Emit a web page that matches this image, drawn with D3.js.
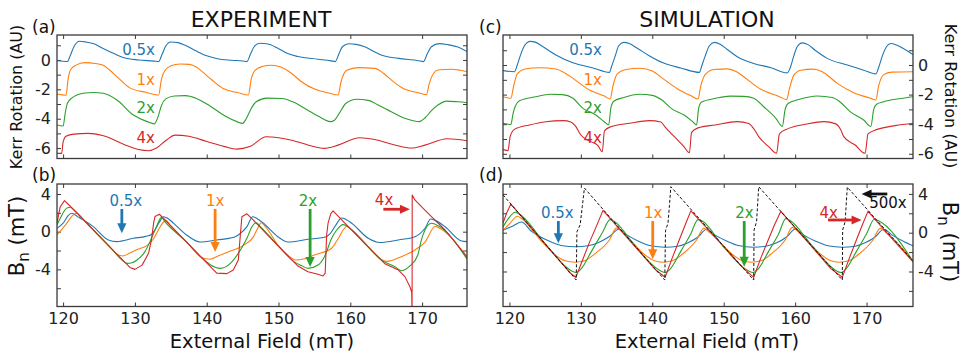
<!DOCTYPE html>
<html>
<head>
<meta charset="utf-8">
<script src="https://cdn.jsdelivr.net/npm/d3@7"></script>
<style>
body { margin: 0; background: #fff; }
svg { display: block; font-family: "DejaVu Sans", Verdana, sans-serif; }
</style>
</head>
<body>
<svg id="chart" width="970" height="362"></svg>
<script>
// ---- data ----
var fieldTicks = [120, 130, 140, 150, 160, 170];
var kerrTicks = [-6, -5, -4, -3, -2, -1, 0, 1];
var kerrLabels = [-6, -4, -2, 0];
var bnTicks = [-6, -4, -2, 0, 2, 4];
var bnLabels = [-4, 0, 4];
var ratioNames = ["0.5x", "1x", "2x", "4x"];
var ratioColors = ["#1f77b4", "#ff7f0e", "#2ca02c", "#d62728"];

// (a) experiment, Kerr rotation
var expKerr05 = [[119.15,-0.05],[120.6,-0.1],[121.0,0.3],[121.5,0.9],[122.3,1.27],[123.2,1.22],[124.2,1.12],[125.5,0.8],[127.0,0.45],[128.5,0.15],[130.5,0.0],[132.7,-0.08],[133.3,-0.11],[133.8,0.4],[134.3,0.95],[135.0,1.22],[136.0,1.18],[137.0,1.0],[138.5,0.62],[140.0,0.28],[141.5,0.08],[143.5,-0.02],[145.0,-0.07],[145.6,-0.11],[146.1,0.4],[146.6,0.9],[147.4,1.14],[148.4,1.1],[149.9,0.8],[151.2,0.45],[152.7,0.23],[155.5,0.05],[157.3,-0.06],[157.9,-0.11],[158.4,0.4],[158.9,0.9],[159.8,1.1],[160.8,1.06],[162.0,0.9],[163.2,0.6],[164.3,0.34],[166.7,0.11],[169.5,-0.05],[170.2,-0.11],[170.7,0.4],[171.3,0.9],[172.4,1.11],[173.5,1.05],[175.0,0.88],[176.25,0.57]];
var expKerr1 = [[119.15,-2.32],[120.4,-2.4],[120.7,-1.3],[121.0,-0.7],[121.8,-0.35],[123.0,-0.18],[124.5,-0.24],[125.6,-0.36],[126.5,-0.7],[127.5,-1.14],[129.3,-1.9],[131.5,-2.2],[133.3,-2.39],[133.7,-1.3],[134.2,-0.7],[135.0,-0.4],[136.3,-0.27],[137.6,-0.3],[138.6,-0.5],[139.5,-0.85],[140.7,-1.35],[142.3,-1.95],[144.3,-2.22],[145.8,-2.39],[146.2,-1.3],[146.7,-0.72],[147.7,-0.45],[149.0,-0.36],[150.4,-0.5],[151.8,-0.9],[153.2,-1.48],[155.1,-2.0],[157.0,-2.25],[158.3,-2.39],[158.7,-1.5],[159.5,-0.7],[161.1,-0.52],[163.4,-0.57],[164.6,-0.9],[165.7,-1.36],[167.6,-2.0],[169.3,-2.22],[170.6,-2.36],[171.0,-1.6],[171.6,-0.9],[172.2,-0.68],[174.1,-0.63],[175.3,-0.7],[176.25,-0.8]];
var expKerr2 = [[119.15,-4.43],[120.0,-4.5],[120.3,-3.6],[120.6,-2.95],[121.2,-2.6],[122.8,-2.27],[124.2,-2.22],[125.6,-2.27],[127.5,-2.73],[129.8,-3.75],[131.7,-4.2],[132.7,-4.35],[133.2,-3.9],[133.7,-3.1],[134.3,-2.65],[135.5,-2.45],[137.0,-2.43],[138.5,-2.6],[140.5,-3.15],[142.5,-3.8],[144.2,-4.2],[145.0,-4.32],[145.5,-4.0],[146.2,-3.3],[146.9,-2.85],[148.4,-2.6],[150.5,-2.62],[152.0,-2.85],[153.5,-3.25],[155.5,-3.82],[157.2,-4.2],[157.8,-4.1],[158.5,-3.6],[159.4,-2.95],[160.9,-2.68],[162.5,-2.75],[164.0,-3.1],[165.7,-3.52],[168.0,-4.04],[169.6,-4.2],[170.4,-3.95],[171.3,-3.45],[172.2,-3.07],[173.4,-2.8],[175.0,-2.85],[176.25,-2.91]];
var expKerr4 = [[119.15,-6.36],[119.8,-6.36],[120.0,-5.6],[120.4,-5.2],[121.5,-5.05],[123.5,-5.0],[125.5,-5.15],[128.5,-5.75],[130.5,-6.1],[131.9,-6.18],[133.0,-6.0],[134.4,-5.45],[135.6,-5.12],[137.5,-5.2],[140.0,-5.55],[142.5,-5.9],[144.2,-6.07],[146.0,-5.9],[148.3,-5.23],[150.0,-5.3],[152.0,-5.48],[154.1,-5.79],[156.4,-6.02],[158.3,-5.8],[161.3,-5.3],[163.4,-5.42],[166.2,-5.79],[168.5,-6.0],[170.4,-5.8],[173.5,-5.37],[176.25,-5.5]];

// (c) simulation, Kerr rotation
var simKerr05 = [[119.1,-0.38],[120.7,-0.45],[121.1,0.0],[121.5,0.6],[122.1,1.3],[122.9,1.6],[123.6,1.55],[124.5,1.3],[126.5,0.68],[128.9,0.15],[131.7,-0.2],[134.0,-0.5],[134.3,-0.1],[134.8,0.6],[135.3,1.3],[136.0,1.53],[136.8,1.45],[138.0,1.1],[139.5,0.65],[141.5,0.15],[144.0,-0.2],[146.6,-0.5],[146.9,-0.1],[147.4,0.6],[148.0,1.3],[148.7,1.53],[149.5,1.4],[150.5,1.05],[151.9,0.56],[154.2,0.11],[156.6,-0.18],[158.9,-0.53],[159.3,-0.2],[159.8,0.6],[160.3,1.25],[161.0,1.5],[161.8,1.38],[162.8,1.0],[164.5,0.45],[167.3,0.0],[169.5,-0.33],[171.3,-0.6],[171.7,-0.15],[172.2,0.6],[172.8,1.25],[173.4,1.46],[174.2,1.35],[175.2,1.1],[176.5,0.7]];
var simKerr1 = [[119.1,-2.14],[120.2,-2.25],[120.6,-1.4],[121.1,-0.6],[122.2,-0.27],[124.2,-0.18],[126.5,-0.27],[127.8,-0.55],[128.9,-0.9],[131.2,-1.69],[133.3,-2.1],[134.1,-2.3],[134.5,-1.4],[135.1,-0.6],[136.3,-0.3],[138.3,-0.22],[140.0,-0.4],[141.3,-0.85],[143.5,-1.6],[145.5,-2.1],[146.4,-2.3],[146.8,-1.4],[147.4,-0.65],[148.6,-0.3],[150.5,-0.26],[151.8,-0.45],[152.8,-0.79],[155.2,-1.64],[157.8,-2.14],[158.8,-2.34],[159.2,-1.6],[159.8,-0.7],[160.8,-0.35],[162.5,-0.28],[163.8,-0.45],[165.9,-1.24],[168.2,-1.87],[170.6,-2.25],[171.3,-2.36],[171.7,-1.4],[172.4,-0.65],[173.5,-0.48],[176.5,-0.45]];
var simKerr2 = [[119.1,-3.94],[120.2,-4.02],[120.5,-3.3],[120.8,-2.8],[121.4,-2.42],[123.7,-2.14],[125.7,-1.98],[127.4,-2.0],[128.9,-2.25],[130.3,-2.93],[132.1,-3.38],[133.3,-3.85],[133.9,-4.05],[134.2,-2.9],[134.6,-2.45],[135.9,-2.21],[138.3,-1.98],[140.0,-2.05],[141.3,-2.35],[142.7,-2.95],[144.5,-3.4],[145.7,-3.85],[146.2,-4.05],[146.5,-2.9],[146.9,-2.5],[148.9,-2.25],[150.9,-2.1],[152.8,-2.12],[154.2,-2.25],[155.6,-2.82],[157.3,-3.6],[158.2,-4.15],[158.6,-3.0],[159.0,-2.6],[160.5,-2.33],[163.1,-2.09],[165.2,-2.2],[166.3,-2.5],[167.7,-3.15],[169.6,-3.72],[170.6,-4.15],[171.0,-3.0],[171.4,-2.65],[172.4,-2.48],[174.5,-2.28],[176.5,-2.14]];
var simKerr4 = [[119.1,-5.7],[119.8,-5.79],[120.1,-4.84],[120.7,-4.35],[122.8,-4.05],[125.1,-3.83],[127.5,-3.76],[128.6,-3.85],[129.2,-4.1],[130.0,-4.73],[131.4,-5.18],[132.4,-5.45],[133.0,-5.86],[133.3,-4.45],[134.2,-4.17],[136.8,-3.94],[139.6,-3.76],[141.2,-3.85],[141.8,-4.2],[143.3,-4.95],[144.4,-5.5],[145.2,-5.93],[145.5,-4.55],[146.4,-4.25],[148.8,-4.05],[151.9,-3.83],[153.5,-3.95],[154.2,-4.3],[154.9,-4.84],[156.3,-5.52],[157.4,-5.97],[157.8,-4.65],[159.0,-4.3],[161.5,-4.0],[164.0,-3.83],[165.7,-3.98],[166.4,-4.4],[166.8,-4.84],[168.4,-5.41],[169.8,-5.97],[170.2,-4.65],[171.5,-4.35],[174.0,-4.1],[176.5,-3.94]];

// (b) experiment, Bn
var expBn05 = [[119.15,0.36],[120.0,0.9],[120.7,1.7],[121.2,1.95],[122.0,1.6],[124.2,0.53],[126.3,-0.88],[127.5,-1.05],[129.8,-0.7],[131.5,-0.5],[132.3,-0.3],[132.8,0.2],[133.4,1.0],[134.0,1.59],[134.6,1.4],[135.4,0.89],[137.2,-0.35],[139.1,-1.1],[141.4,-0.88],[143.8,-0.6],[144.5,-0.3],[145.6,0.53],[146.4,1.59],[147.0,1.4],[147.9,0.89],[149.9,-0.53],[151.3,-1.1],[154.1,-0.81],[156.4,-0.6],[157.2,-0.2],[157.9,0.6],[158.8,1.45],[159.4,1.3],[160.2,0.89],[162.5,-0.7],[164.1,-1.15],[166.7,-0.88],[169.0,-0.53],[170.4,0.36],[171.2,1.35],[171.8,1.2],[173.2,0.53],[175.5,-0.99],[176.25,-1.06]];
var expBn1 = [[119.15,-0.35],[120.5,0.89],[121.3,1.7],[121.9,1.95],[122.5,1.5],[123.5,0.73],[125.0,-0.44],[126.5,-1.6],[127.5,-2.4],[128.3,-2.58],[129.2,-2.3],[130.3,-1.9],[131.7,-1.45],[132.6,-0.75],[133.5,0.5],[134.3,1.2],[135.0,0.6],[137.5,-1.35],[139.3,-2.75],[140.4,-2.93],[141.5,-2.6],[142.8,-2.2],[145.1,-1.45],[146.5,-0.55],[147.0,0.2],[147.6,0.95],[148.2,0.5],[150.0,-1.5],[151.3,-2.5],[152.4,-3.0],[153.5,-2.9],[155.0,-2.47],[157.4,-1.76],[158.3,-0.75],[159.5,0.55],[160.2,0.2],[163.4,-2.32],[164.3,-2.95],[165.1,-3.15],[167.1,-2.65],[169.0,-1.95],[170.4,-1.1],[171.8,0.55],[172.5,0.35],[176.25,-2.83]];
var expBn2 = [[119.15,0.7],[119.6,1.42],[120.5,2.5],[121.0,2.6],[121.5,2.3],[124.0,0.34],[126.5,-1.6],[128.2,-3.0],[128.9,-3.36],[129.6,-3.3],[130.3,-3.0],[131.4,-2.12],[132.1,-1.06],[133.0,0.53],[133.7,1.52],[134.2,1.05],[137.0,-0.95],[139.5,-2.9],[140.5,-3.5],[141.9,-3.89],[143.3,-3.36],[144.4,-2.3],[145.6,-0.7],[146.3,0.53],[146.9,0.95],[147.4,0.6],[150.0,-1.53],[152.2,-3.2],[153.2,-3.6],[154.1,-3.89],[155.5,-3.54],[156.4,-2.65],[157.4,-0.7],[158.1,0.18],[159.0,0.75],[159.5,0.6],[162.0,-1.25],[164.5,-3.1],[166.2,-3.72],[167.1,-4.14],[168.3,-3.64],[169.4,-2.47],[169.9,-0.88],[170.4,0.18],[171.3,0.89],[172.3,0.6],[176.25,-2.9]];
var expBn4 = [[119.15,0.9],[119.6,2.65],[120.2,3.3],[121.0,2.7],[124.0,0.34],[127.0,-2.0],[129.3,-3.8],[130.0,-4.0],[131.0,-3.55],[131.9,-2.3],[132.3,-0.9],[132.6,0.9],[132.8,1.6],[133.4,1.85],[134.0,1.4],[137.0,-0.95],[140.0,-3.3],[141.4,-4.4],[142.8,-4.45],[143.7,-4.07],[144.4,-3.0],[144.7,-0.2],[144.9,1.59],[145.6,1.9],[146.4,1.3],[149.5,-1.15],[152.7,-3.65],[154.1,-4.25],[155.5,-4.52],[156.2,-4.7],[156.5,-4.4],[156.7,-0.35],[156.9,0.9],[157.3,1.95],[157.6,2.2],[158.3,1.65],[159.0,1.1],[162.0,-1.23],[164.8,-3.4],[166.7,-4.07],[167.6,-4.77],[168.3,-5.84],[168.55,-6.4],[168.6,-9.0],[168.62,3.9],[169.0,3.37],[169.9,2.65],[171.3,1.59],[173.2,0.18],[176.25,-2.65]];

// (d) simulation, Bn
var simBn05 = [[119.1,0.25],[120.5,0.7],[121.7,1.1],[123.0,0.2],[124.5,-0.5],[126.0,-1.0],[127.5,-1.35],[129.2,-1.45],[131.0,-1.35],[132.5,-1.0],[134.0,-0.4],[135.3,0.35],[136.5,-0.25],[138.0,-0.85],[139.8,-1.35],[141.8,-1.5],[143.6,-1.4],[145.0,-1.05],[146.4,-0.45],[147.6,0.35],[148.8,-0.25],[150.4,-0.85],[152.2,-1.35],[154.1,-1.5],[155.9,-1.4],[157.4,-1.05],[158.8,-0.45],[160.0,0.35],[161.2,-0.25],[162.8,-0.85],[164.6,-1.35],[166.6,-1.5],[168.4,-1.4],[169.8,-1.05],[171.2,-0.45],[172.4,0.35],[173.6,-0.25],[175.2,-0.9],[176.5,-1.35]];
var simBn1 = [[119.1,0.25],[120.0,0.9],[121.1,1.7],[121.7,1.45],[124.5,-0.9],[126.5,-2.35],[127.8,-2.9],[129.2,-3.05],[130.5,-2.9],[132.1,-2.1],[134.0,-0.75],[135.0,0.5],[135.7,0.15],[139.0,-2.3],[140.3,-2.9],[141.4,-3.05],[142.8,-2.9],[144.4,-2.1],[146.2,-0.75],[147.2,0.45],[147.9,0.1],[151.4,-2.35],[152.6,-2.9],[153.8,-3.05],[155.2,-2.9],[156.8,-2.1],[158.6,-0.75],[159.6,0.55],[160.3,0.2],[163.8,-2.35],[165.0,-2.9],[166.1,-3.05],[167.5,-2.9],[169.1,-2.1],[170.9,-0.75],[171.9,0.45],[172.6,0.1],[176.5,-2.9]];
var simBn2 = [[119.1,0.6],[119.8,1.4],[120.8,2.1],[121.3,1.95],[125.0,-1.15],[127.8,-3.45],[128.7,-3.95],[129.3,-4.1],[130.0,-3.75],[131.5,-1.9],[133.0,0.0],[134.1,1.35],[134.6,1.2],[137.5,-1.3],[140.3,-3.5],[141.2,-3.95],[141.8,-4.1],[142.5,-3.75],[144.0,-1.9],[145.4,-0.1],[146.4,1.35],[147.0,1.2],[149.8,-1.3],[152.6,-3.5],[153.5,-3.95],[154.1,-4.1],[154.8,-3.75],[156.3,-1.9],[157.7,-0.1],[158.7,1.45],[159.2,1.3],[162.2,-1.2],[165.0,-3.5],[165.8,-3.95],[166.4,-4.1],[167.1,-3.75],[168.6,-1.9],[170.0,-0.1],[171.1,1.38],[171.6,1.25],[176.5,-2.95]];
var simBn4 = [[119.1,1.0],[119.6,2.0],[120.2,2.95],[125.0,-1.15],[128.5,-4.15],[129.3,-4.6],[130.2,-2.9],[131.2,-1.0],[132.2,0.7],[133.1,2.3],[137.0,-0.95],[140.5,-3.85],[141.8,-4.6],[142.8,-2.6],[143.8,-0.7],[144.6,0.8],[145.4,2.25],[149.0,-0.6],[152.6,-3.55],[154.2,-4.6],[155.2,-2.6],[156.2,-0.8],[157.1,0.8],[158.0,2.2],[161.5,-0.75],[165.0,-3.7],[166.6,-4.6],[167.6,-2.6],[168.6,-0.7],[169.4,0.8],[170.2,2.2],[173.0,-0.15],[176.5,-3.0]];
var simBn500 = [[119.1,3.9],[129.35,-4.88],[129.45,0.1],[129.9,0.8],[130.2,2.7],[130.5,4.6],[141.75,-4.88],[141.85,0.2],[142.2,1.0],[142.4,2.8],[142.6,4.74],[154.2,-4.88],[154.25,0.28],[154.6,1.13],[154.9,4.74],[166.6,-4.88],[166.65,0.28],[167.0,1.13],[167.3,4.7],[176.5,-2.9]];

// ---- layout ----
var svg = d3.select("#chart");
var FRAME = "#3a3a3a";

var panels = [
    {id: "a", left: 57, right: 467, top: 35, bottom: 158.5, xDomain: [119.15, 176.25], yDomain: [-6.71, 1.70],
     yTicks: kerrTicks, yLabels: kerrLabels, side: "left", xLabels: false,
     data: [expKerr05, expKerr1, expKerr2, expKerr4], linear: [false, false, false, false],
     notes: [{t: 0, x: 132.8, y: 0.34}, {t: 1, x: 132.8, y: -1.7}, {t: 2, x: 132.8, y: -3.63}, {t: 3, x: 132.8, y: -5.64}]},
    {id: "c", left: 503, right: 913, top: 35, bottom: 158.5, xDomain: [119.1, 176.5], yDomain: [-6.32, 2.03],
     yTicks: kerrTicks, yLabels: kerrLabels, side: "right", xLabels: false,
     data: [simKerr05, simKerr1, simKerr2, simKerr4], linear: [false, false, false, false],
     notes: [{t: 0, x: 132.96, y: 0.68}, {t: 1, x: 132.96, y: -1.35}, {t: 2, x: 132.96, y: -3.26}, {t: 3, x: 132.96, y: -5.25}]},
    {id: "b", left: 57, right: 467, top: 184, bottom: 306.5, xDomain: [119.15, 176.25], yDomain: [-7.94, 5.06],
     yTicks: bnTicks, yLabels: bnLabels, side: "left", xLabels: true,
     data: [expBn05, expBn1, expBn2, expBn4], linear: [false, false, false, true],
     arrows: [{c: 0, tx: 128.73, ty: 2.73, a: [128.18, 2.41, 128.18, -0.17]},
              {c: 1, tx: 141.17, ty: 2.73, a: [141.17, 2.41, 141.17, -2.15]},
              {c: 2, tx: 154.1, ty: 2.73, a: [154.4, 2.41, 154.4, -3.75]},
              {c: 3, tx: 164.7, ty: 2.83, a: [164.6, 2.38, 168.3, 2.38]}]},
    {id: "d", left: 503, right: 913, top: 184, bottom: 306.5, xDomain: [119.1, 176.5], yDomain: [-7.61, 5.02],
     yTicks: bnTicks, yLabels: bnLabels, side: "right", xLabels: true,
     data: [simBn05, simBn1, simBn2, simBn4], linear: [false, false, false, true], black: simBn500,
     arrows: [{c: 0, tx: 126.7, ty: 1.52, a: [126.85, 1.2, 126.85, -1.09]},
              {c: 1, tx: 140.14, ty: 1.52, a: [140.06, 1.2, 140.06, -2.74]},
              {c: 2, tx: 152.9, ty: 1.52, a: [152.87, 1.2, 152.87, -3.5]},
              {c: 3, tx: 164.7, ty: 1.52, a: [164.6, 1.31, 169.3, 1.31]},
              {c: -1, tx: 173.0, ty: 2.5, a: [172.9, 3.99, 169.3, 3.99], text: "500x"}]}
];

function styleAxis(sel) {
    sel.select(".domain").remove();
    sel.selectAll(".tick line").attr("stroke", FRAME).attr("stroke-width", 1);
    sel.selectAll(".tick text").attr("font-family", "DejaVu Sans").attr("font-size", 16).attr("fill", "#222");
    sel.attr("font-family", null).attr("font-size", null);
    return sel;
}

var arrow = function(g, x1, y1, x2, y2, color) {
    var dx = x2 - x1, dy = y2 - y1, len = Math.sqrt(dx * dx + dy * dy);
    var ux = dx / len, uy = dy / len, head = 10, half = 4.6;
    var bx = x2 - ux * head, by = y2 - uy * head;
    g.append("line")
        .attr("x1", x1).attr("y1", y1).attr("x2", bx + ux).attr("y2", by + uy)
        .attr("stroke", color).attr("stroke-width", 2.8);
    g.append("path")
        .attr("d", "M" + x2 + "," + y2 + "L" + (bx - uy * half) + "," + (by + ux * half) +
                   "L" + (bx + uy * half) + "," + (by - ux * half) + "Z")
        .attr("fill", color);
}

var drawPanel = function(p) {
    var x = d3.scaleLinear().domain(p.xDomain).range([p.left, p.right]);
    var y = d3.scaleLinear().domain(p.yDomain).range([p.bottom, p.top]);
    var g = svg.append("g");
    var none = function() { return ""; };
    var yFmt = function(d) { return p.yLabels.indexOf(d) >= 0 ? (d < 0 ? "-" + (-d) : String(d)) : ""; };

    svg.append("clipPath").attr("id", "clip" + p.id).append("rect")
        .attr("x", p.left).attr("y", p.top)
        .attr("width", p.right - p.left).attr("height", p.bottom - p.top);

    styleAxis(g.append("g").attr("transform", "translate(0," + p.bottom + ")")
        .call(d3.axisBottom(x).tickValues(fieldTicks).tickSizeInner(-4).tickSizeOuter(0)
            .tickPadding(6).tickFormat(p.xLabels ? d3.format("d") : none)));
    styleAxis(g.append("g").attr("transform", "translate(0," + p.top + ")")
        .call(d3.axisTop(x).tickValues(fieldTicks).tickSizeInner(-4).tickSizeOuter(0).tickFormat(none)));
    styleAxis(g.append("g").attr("transform", "translate(" + p.left + ",0)")
        .call(d3.axisLeft(y).tickValues(p.yTicks).tickSizeInner(-4).tickSizeOuter(0)
            .tickPadding(6).tickFormat(p.side === "left" ? yFmt : none)));
    styleAxis(g.append("g").attr("transform", "translate(" + p.right + ",0)")
        .call(d3.axisRight(y).tickValues(p.yTicks).tickSizeInner(-4).tickSizeOuter(0)
            .tickPadding(5).tickFormat(p.side === "right" ? yFmt : none)));

    var lines = g.append("g").attr("clip-path", "url(#clip" + p.id + ")");
    p.data.forEach(function(s, i) {
        var line = d3.line()
            .x(function(d) { return x(d[0]); })
            .y(function(d) { return y(d[1]); })
            .curve(p.linear[i] ? d3.curveLinear : d3.curveMonotoneX);
        lines.append("path").datum(s)
            .attr("d", line)
            .attr("fill", "none")
            .attr("stroke", ratioColors[i])
            .attr("stroke-width", 1.1)
            .attr("stroke-linejoin", "round");
    });
    if (p.black) {
        lines.append("path").datum(p.black)
            .attr("d", d3.line().x(function(d) { return x(d[0]); }).y(function(d) { return y(d[1]); }))
            .attr("fill", "none")
            .attr("stroke", "#111")
            .attr("stroke-width", 1)
            .attr("stroke-dasharray", "3,2");
    }

    g.append("rect")
        .attr("x", p.left).attr("y", p.top)
        .attr("width", p.right - p.left).attr("height", p.bottom - p.top)
        .attr("fill", "none").attr("stroke", FRAME).attr("stroke-width", 1.3);

    (p.notes || []).forEach(function(n) {
        g.append("text")
            .attr("x", x(n.x)).attr("y", y(n.y))
            .attr("text-anchor", "end")
            .attr("font-size", 15)
            .attr("fill", ratioColors[n.t])
            .text(ratioNames[n.t]);
    });
    (p.arrows || []).forEach(function(n) {
        var color = n.c < 0 ? "#111" : ratioColors[n.c];
        g.append("text")
            .attr("x", x(n.tx)).attr("y", y(n.ty))
            .attr("text-anchor", "middle")
            .attr("font-size", 15)
            .attr("fill", color)
            .text(n.text || ratioNames[n.c]);
        arrow(g, x(n.a[0]), y(n.a[1]), x(n.a[2]), y(n.a[3]), color);
    });
}

panels.forEach(drawPanel);

// ---- titles and labels ----
var addText = function(txt, tx, ty, size, rot, anchor) {
    return svg.append("text")
        .attr("transform", "translate(" + tx + "," + ty + ")" + (rot ? " rotate(" + rot + ")" : ""))
        .attr("text-anchor", anchor || "middle")
        .attr("font-size", size)
        .attr("fill", "#111")
        .text(txt);
}

addText("EXPERIMENT", 261, 27, 22);
addText("SIMULATION", 707, 27, 22);
addText("(a)", 32, 33, 17, 0, "start");
addText("(b)", 32, 181, 17, 0, "start");
addText("(c)", 479, 33, 17, 0, "start");
addText("(d)", 479, 181, 17, 0, "start");
addText("Kerr Rotation (AU)", 22, 97, 16, -90);
addText("Kerr Rotation (AU)", 945, 96, 16, 90);
addText("External Field (mT)", 262, 348, 19.5);
addText("External Field (mT)", 707, 348, 19.5);

var bnLabel = function(tx, ty, rot) {
    var t = addText("", tx, ty, 21, rot);
    t.append("tspan").text("B");
    t.append("tspan").attr("font-size", 15).attr("dy", 5).text("n");
    t.append("tspan").attr("dy", -5).text(" (mT)");
}
bnLabel(24, 236, -90);
bnLabel(943, 242, 90);
</script>
</body>
</html>
